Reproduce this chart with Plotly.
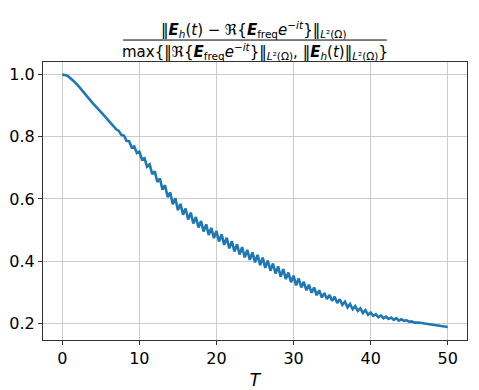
import plotly.graph_objects as go

# time samples T and relative error values
t_vals = [0, 0.25, 0.5, 0.75, 1, 1.5, 2, 2.5, 3, 4, 5,
          6.0, 6.33, 6.67, 7.0, 7.33, 7.67, 8.0, 8.33, 8.67, 9.0, 9.33, 9.67,
          10.0, 10.33, 10.67, 11.0, 11.33, 11.67, 12.0, 12.33, 12.67, 13.0, 13.33, 13.67,
          14.0, 14.33, 14.67, 15.0, 15.33, 15.67, 16.0, 16.33, 16.67, 17.0, 17.33, 17.67,
          18.0, 18.33, 18.67, 19.0, 19.33, 19.67, 20.0, 20.33, 20.67, 21.0, 21.33, 21.67,
          22.0, 22.33, 22.67, 23.0, 23.33, 23.67, 24.0, 24.33, 24.67, 25.0, 25.33, 25.67,
          26.0, 26.33, 26.67, 27.0, 27.33, 27.67, 28.0, 28.33, 28.67, 29.0, 29.33, 29.67,
          30.0, 30.33, 30.67, 31.0, 31.33, 31.67, 32.0, 32.33, 32.67, 33.0, 33.33, 33.67,
          34.0, 34.33, 34.67, 35.0, 35.33, 35.67, 36.0, 36.33, 36.67, 37.0, 37.33, 37.67,
          38.0, 38.33, 38.67, 39.0, 39.33, 39.67, 40.0, 40.33, 40.67, 41.0, 41.33, 41.67,
          42.0, 42.33, 42.67, 43.0, 43.33, 43.67, 44.0, 44.33, 44.67, 45.0, 45.33, 45.67,
          46.0, 46.33, 46.67, 47, 48, 49, 50]
err_vals = [1.0, 0.9995, 0.998, 0.995, 0.99, 0.979, 0.966, 0.951, 0.936, 0.907, 0.880,
            0.853, 0.843, 0.836, 0.824, 0.819, 0.806, 0.804, 0.787, 0.786, 0.766, 0.769, 0.748,
            0.752, 0.727, 0.731, 0.704, 0.711, 0.680, 0.689, 0.655, 0.666, 0.630, 0.644, 0.606,
            0.621, 0.583, 0.602, 0.564, 0.584, 0.549, 0.569, 0.534, 0.556, 0.521, 0.542, 0.508,
            0.529, 0.495, 0.518, 0.484, 0.507, 0.474, 0.497, 0.463, 0.486, 0.452, 0.475, 0.441,
            0.464, 0.431, 0.454, 0.421, 0.445, 0.412, 0.436, 0.404, 0.428, 0.396, 0.420, 0.387,
            0.411, 0.378, 0.402, 0.369, 0.392, 0.360, 0.383, 0.350, 0.374, 0.342, 0.363, 0.332,
            0.353, 0.322, 0.344, 0.315, 0.333, 0.306, 0.324, 0.298, 0.315, 0.290, 0.306, 0.283,
            0.297, 0.278, 0.291, 0.272, 0.285, 0.265, 0.277, 0.259, 0.269, 0.251, 0.262, 0.245,
            0.255, 0.240, 0.248, 0.233, 0.242, 0.227, 0.234, 0.224, 0.229, 0.219, 0.225, 0.216,
            0.221, 0.214, 0.218, 0.211, 0.216, 0.208, 0.2125, 0.2075, 0.2095, 0.205, 0.206, 0.202,
            0.2025, 0.2005, 0.2005, 0.199, 0.195, 0.192, 0.188]

x_ticks = [0, 10, 20, 30, 40, 50]
y_ticks = [0.2, 0.4, 0.6, 0.8, 1.0]

font = "DejaVu Sans"
E = "<b><i>E</i></b>"
numerator = ("‖" + E + "<sub><i>h</i></sub>(<i>t</i>) − ℜ{" + E + "<sub>freq</sub><i>e</i><sup>−<i>it</i></sup>}‖"
             "<sub><i>L</i>²(Ω)</sub>")
denominator = ("max{‖ℜ{" + E + "<sub>freq</sub><i>e</i><sup>−<i>it</i></sup>}‖<sub><i>L</i>²(Ω)</sub>, ‖"
               + E + "<sub><i>h</i></sub>(<i>t</i>)‖<sub><i>L</i>²(Ω)</sub>}")

fig = go.Figure(go.Scatter(x=t_vals, y=err_vals, mode="lines",
                           line=dict(color="#1f77b4", width=2.6)))

axis_style = dict(showline=True, linecolor="#333333", linewidth=1, mirror=True,
                  ticks="outside", ticklen=4, tickcolor="#333333", automargin=False,
                  showgrid=True, gridcolor="#cccccc", gridwidth=1, zeroline=False,
                  tickfont=dict(family=font, size=16, color="black"))

fig.update_xaxes(range=[-2.5, 52.5], tickvals=x_ticks,
                 title=dict(text="<i>T</i>", font=dict(family=font, size=17, color="black"), standoff=6),
                 **axis_style)
fig.update_yaxes(range=[0.146, 1.0407], tickvals=y_ticks, tickformat=".1f", **axis_style)

# fraction title: numerator, bar, denominator
fig.add_annotation(x=0.497, y=1.118, xref="paper", yref="paper", text=numerator, showarrow=False,
                   yanchor="middle", font=dict(family=font, size=15, color="black"))
fig.add_annotation(x=0.5, y=1.036, xref="paper", yref="paper", text=denominator, showarrow=False,
                   yanchor="middle", font=dict(family=font, size=15, color="black"))
fig.add_shape(type="line", xref="paper", yref="paper", x0=0.189, x1=0.811, y0=1.079, y1=1.079,
              line=dict(color="black", width=1))

fig.update_layout(width=479, height=390, margin=dict(l=43, r=12, t=62, b=50, autoexpand=False),
                  paper_bgcolor="white", plot_bgcolor="white", showlegend=False,
                  font=dict(family=font))

fig.write_html("out.html", config={"displayModeBar": False},
               post_script="document.body.style.margin='0';")
